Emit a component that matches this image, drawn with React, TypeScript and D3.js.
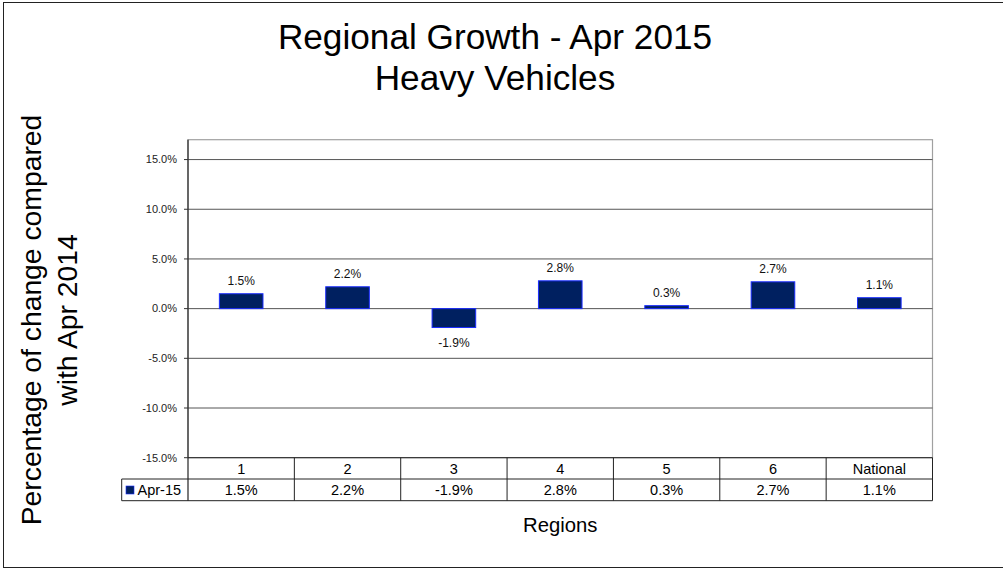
import React from "react";
import * as d3 from "d3";

const categories = ["1", "2", "3", "4", "5", "6", "National"];
const values = [1.5, 2.2, -1.9, 2.8, 0.3, 2.7, 1.1];
const seriesName = "Apr-15";
const yTicks = [-15, -10, -5, 0, 5, 10, 15];
const titleLines = ["Regional Growth - Apr 2015", "Heavy Vehicles"];
const yTitleLines = ["Percentage of change compared", "with Apr 2014"];
const xTitle = "Regions";

const W = 1003;
const H = 571;
const FONT = "'Liberation Sans', Arial, Helvetica, sans-serif";

const pct = (v: number) => d3.format(".1f")(v).replace("\u2212", "-") + "%";

export default function App() {
  const left = 188;
  const right = 932.5;
  const plotTop = 139.7;
  const plotBottom = 457.7;
  const row1 = 479;
  const row2 = 500.7;
  const legendLeft = 121.7;

  const x = d3.scaleBand<string>().domain(categories).range([left, right]).padding(0);
  const y = d3.scaleLinear().domain([-15, 17]).range([plotBottom, plotTop]);
  const bw = x.bandwidth() * 0.41;

  return (
    <svg
      width={W}
      height={H}
      style={{ position: "absolute", left: 0, top: 0, background: "#fff" }}
      fontFamily={FONT}
    >
      <rect x={3.5} y={2.5} width={1002} height={565} fill="#fff" stroke="#222" strokeWidth={1} />

      {titleLines.map((t, i) => (
        <text key={t} x={495} y={49 + i * 40.5} textAnchor="middle" fontSize={35.2} fill="#000">
          {t}
        </text>
      ))}

      {yTitleLines.map((t, i) => (
        <text
          key={t}
          transform={`translate(${41 + i * 36},320) rotate(-90)`}
          textAnchor="middle"
          fontSize={28.3}
          fill="#000"
        >
          {t}
        </text>
      ))}

      <rect x={left} y={plotTop} width={right - left} height={plotBottom - plotTop} fill="none" stroke="#a0a0a0" strokeWidth={1.2} />

      {yTicks.filter((t) => t !== -15).map((t) => (
        <line key={t} x1={left} x2={right} y1={y(t)} y2={y(t)} stroke="#555" strokeWidth={1} />
      ))}

      {yTicks.map((t) => (
        <g key={"tk" + t}>
          <line x1={left - 4} x2={left} y1={y(t)} y2={y(t)} stroke="#333" strokeWidth={1} />
          <text x={177} y={y(t)} dy="0.35em" textAnchor="end" fontSize={11} fill="#222">
            {pct(t)}
          </text>
        </g>
      ))}

      {values.map((v, i) => {
        const cx = (x(categories[i]) as number) + x.bandwidth() / 2;
        const y0 = y(0);
        const y1 = y(v);
        return (
          <g key={"b" + i}>
            <rect
              x={cx - bw / 2}
              y={Math.min(y0, y1)}
              width={bw}
              height={Math.abs(y1 - y0)}
              fill="#002060"
              stroke="#1a2cff"
              strokeWidth={1}
            />
            <text
              x={cx}
              y={v >= 0 ? y1 - 9 : y1 + 19}
              textAnchor="middle"
              fontSize={12}
              fill="#111"
            >
              {pct(v)}
            </text>
          </g>
        );
      })}

      <line x1={left} x2={left} y1={plotTop} y2={row2} stroke="#333" strokeWidth={1.3} />

      <g stroke="#222" strokeWidth={1}>
        <line x1={left} x2={right} y1={plotBottom} y2={plotBottom} />
        <line x1={legendLeft} x2={right} y1={row1} y2={row1} />
        <line x1={legendLeft} x2={right} y1={row2} y2={row2} />
        <line x1={legendLeft} x2={legendLeft} y1={row1} y2={row2} />
        {categories.map((c) => (
          <line key={"v" + c} x1={(x(c) as number) + x.bandwidth()} x2={(x(c) as number) + x.bandwidth()} y1={plotBottom} y2={row2} />
        ))}
      </g>
      {categories.map((c, i) => {
        const cx = (x(c) as number) + x.bandwidth() / 2;
        return (
          <g key={"t" + c}>
            <text x={cx} y={473.5} textAnchor="middle" fontSize={14.5} fill="#000">
              {c}
            </text>
            <text x={cx} y={495} textAnchor="middle" fontSize={14.5} fill="#000">
              {pct(values[i])}
            </text>
          </g>
        );
      })}
      <rect x={126} y={486} width={8} height={8} fill="#002060" stroke="#1a2cff" strokeWidth={0.6} />
      <text x={137.5} y={495} fontSize={14.5} fill="#000">
        {seriesName}
      </text>

      <text x={(left + right) / 2} y={531.5} textAnchor="middle" fontSize={20.3} fill="#000">
        {xTitle}
      </text>
    </svg>
  );
}
